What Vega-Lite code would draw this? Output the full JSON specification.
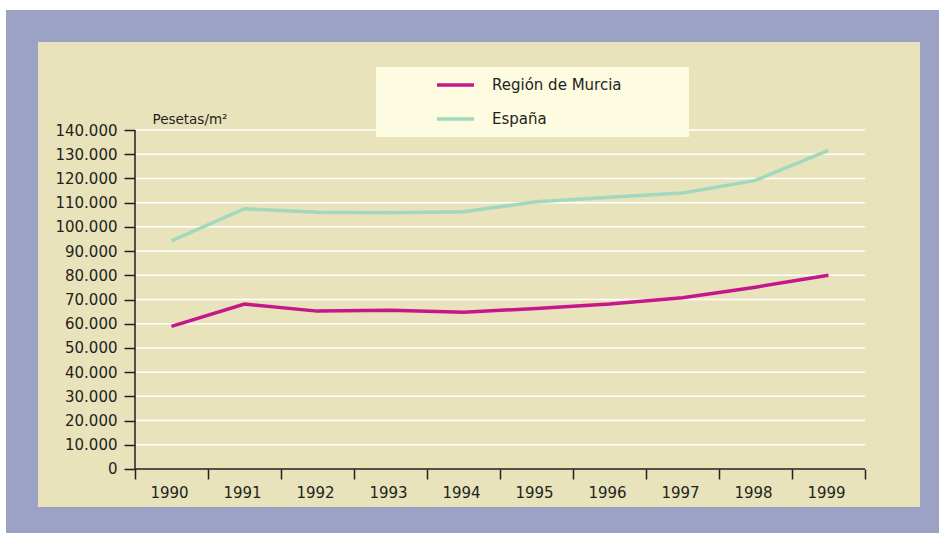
{
  "$schema": "https://vega.github.io/schema/vega-lite/v6.json",
  "width": 914,
  "height": 497,
  "autosize": {"type": "none"},
  "padding": {"left": 22, "top": 26, "right": 3, "bottom": 10},
  "background": "#ffffff",
  "config": {
    "view": {"fill": "#e8e3ba", "stroke": "#9ca2c6", "strokeWidth": 32},
    "font": "DejaVu Sans",
    "axis": {"labelColor": "#231f20", "labelFontSize": 15, "tickColor": "#231f20", "titleColor": "#231f20", "labelFont": "DejaVu Sans", "titleFont": "DejaVu Sans"},
    "legend": {"labelFont": "DejaVu Sans", "titleFont": "DejaVu Sans"}
  },
  "datasets": {
    "precios": [
      {"year": 1990, "region": "Región de Murcia", "value": 58900},
      {"year": 1991, "region": "Región de Murcia", "value": 68100},
      {"year": 1992, "region": "Región de Murcia", "value": 65200},
      {"year": 1993, "region": "Región de Murcia", "value": 65600},
      {"year": 1994, "region": "Región de Murcia", "value": 64700},
      {"year": 1995, "region": "Región de Murcia", "value": 66300},
      {"year": 1996, "region": "Región de Murcia", "value": 68100},
      {"year": 1997, "region": "Región de Murcia", "value": 70700},
      {"year": 1998, "region": "Región de Murcia", "value": 75100},
      {"year": 1999, "region": "Región de Murcia", "value": 80000},
      {"year": 1990, "region": "España", "value": 94200},
      {"year": 1991, "region": "España", "value": 107500},
      {"year": 1992, "region": "España", "value": 106000},
      {"year": 1993, "region": "España", "value": 105800},
      {"year": 1994, "region": "España", "value": 106200},
      {"year": 1995, "region": "España", "value": 110400},
      {"year": 1996, "region": "España", "value": 112200},
      {"year": 1997, "region": "España", "value": 114000},
      {"year": 1998, "region": "España", "value": 119200},
      {"year": 1999, "region": "España", "value": 131600}
    ],
    "grid": [
      {"g": 10000}, {"g": 20000}, {"g": 30000}, {"g": 40000}, {"g": 50000},
      {"g": 60000}, {"g": 70000}, {"g": 80000}, {"g": 90000}, {"g": 100000},
      {"g": 110000}, {"g": 120000}, {"g": 130000}, {"g": 140000}
    ],
    "one": [{"n": 1}]
  },
  "layer": [
    {
      "data": {"name": "grid"},
      "mark": {"type": "rule", "color": "#ffffff", "strokeWidth": 1.5},
      "encoding": {
        "y": {"field": "g", "type": "quantitative",
              "scale": {"domain": [-22301, 182950], "nice": false, "zero": false},
              "axis": {
                "values": [0, 10000, 20000, 30000, 40000, 50000, 60000, 70000, 80000, 90000, 100000, 110000, 120000, 130000, 140000],
                "domain": false, "grid": false, "offset": -113, "tickSize": 11, "tickWidth": 1.5, "labelPadding": 7,
                "labelExpr": "replace(format(datum.value, ','), /,/g, '.')",
                "labelOverlap": false, "labelFlush": false, "labelBound": false,
                "title": "Pesetas/m²", "titleAngle": 0, "titleAlign": "left", "titleBaseline": "alphabetic",
                "titleX": 17, "titleY": 97, "titleFontSize": 13.5, "titleFontWeight": "normal"
              }},
        "x": {"datum": 1989.5, "type": "quantitative",
              "scale": {"domain": [1987.9521, 2000.4726], "nice": false, "zero": false},
              "axis": {
                "values": [1989.5, 1990.5, 1991.5, 1992.5, 1993.5, 1994.5, 1995.5, 1996.5, 1997.5, 1998.5, 1999.5],
                "domain": false, "grid": false, "offset": -54, "tickSize": 10, "tickWidth": 1.5, "labelPadding": 6,
                "labelOffset": 34, "labelFlush": false, "labelOverlap": false, "labelBound": false,
                "labelExpr": "datum.value > 1999 ? '' : format(datum.value + 0.5, 'd')",
                "title": null
              }},
        "x2": {"datum": 1999.5}
      }
    },
    {
      "data": {"name": "one"},
      "mark": {"type": "rule", "color": "#231f20", "strokeWidth": 1.5},
      "encoding": {
        "x": {"datum": 1989.5, "type": "quantitative",
              "axis": {
                "values": [1989.5, 1990.5, 1991.5, 1992.5, 1993.5, 1994.5, 1995.5, 1996.5, 1997.5, 1998.5, 1999.5],
                "domain": false, "grid": false, "offset": -54, "tickSize": 10, "tickWidth": 1.5, "labelPadding": 6,
                "labelOffset": 34, "labelFlush": false, "labelOverlap": false, "labelBound": false,
                "labelExpr": "datum.value > 1999 ? '' : format(datum.value + 0.5, 'd')",
                "title": null
              }},
        "x2": {"datum": 1999.5},
        "y": {"datum": 0, "type": "quantitative",
              "axis": {
                "values": [0, 10000, 20000, 30000, 40000, 50000, 60000, 70000, 80000, 90000, 100000, 110000, 120000, 130000, 140000],
                "domain": false, "grid": false, "offset": -113, "tickSize": 11, "tickWidth": 1.5, "labelPadding": 7,
                "labelExpr": "replace(format(datum.value, ','), /,/g, '.')",
                "labelOverlap": false, "labelFlush": false, "labelBound": false,
                "title": "Pesetas/m²", "titleAngle": 0, "titleAlign": "left", "titleBaseline": "alphabetic",
                "titleX": 17, "titleY": 97, "titleFontSize": 13.5, "titleFontWeight": "normal"
              }}
      }
    },
    {
      "data": {"name": "one"},
      "mark": {"type": "rule", "color": "#231f20", "strokeWidth": 1.5},
      "encoding": {
        "x": {"datum": 1989.5, "type": "quantitative",
              "axis": {
                "values": [1989.5, 1990.5, 1991.5, 1992.5, 1993.5, 1994.5, 1995.5, 1996.5, 1997.5, 1998.5, 1999.5],
                "domain": false, "grid": false, "offset": -54, "tickSize": 10, "tickWidth": 1.5, "labelPadding": 6,
                "labelOffset": 34, "labelFlush": false, "labelOverlap": false, "labelBound": false,
                "labelExpr": "datum.value > 1999 ? '' : format(datum.value + 0.5, 'd')",
                "title": null
              }},
        "y": {"datum": 0, "type": "quantitative",
              "axis": {
                "values": [0, 10000, 20000, 30000, 40000, 50000, 60000, 70000, 80000, 90000, 100000, 110000, 120000, 130000, 140000],
                "domain": false, "grid": false, "offset": -113, "tickSize": 11, "tickWidth": 1.5, "labelPadding": 7,
                "labelExpr": "replace(format(datum.value, ','), /,/g, '.')",
                "labelOverlap": false, "labelFlush": false, "labelBound": false,
                "title": "Pesetas/m²", "titleAngle": 0, "titleAlign": "left", "titleBaseline": "alphabetic",
                "titleX": 17, "titleY": 97, "titleFontSize": 13.5, "titleFontWeight": "normal"
              }},
        "y2": {"datum": 140000}
      }
    },
    {
      "data": {"name": "precios"},
      "mark": {"type": "line", "strokeWidth": 3.5},
      "encoding": {
        "x": {"field": "year", "type": "quantitative",
              "axis": {
                "values": [1989.5, 1990.5, 1991.5, 1992.5, 1993.5, 1994.5, 1995.5, 1996.5, 1997.5, 1998.5, 1999.5],
                "domain": false, "grid": false, "offset": -54, "tickSize": 10, "tickWidth": 1.5, "labelPadding": 6,
                "labelOffset": 34, "labelFlush": false, "labelOverlap": false, "labelBound": false,
                "labelExpr": "datum.value > 1999 ? '' : format(datum.value + 0.5, 'd')",
                "title": null
              }},
        "y": {"field": "value", "type": "quantitative",
              "axis": {
                "values": [0, 10000, 20000, 30000, 40000, 50000, 60000, 70000, 80000, 90000, 100000, 110000, 120000, 130000, 140000],
                "domain": false, "grid": false, "offset": -113, "tickSize": 11, "tickWidth": 1.5, "labelPadding": 7,
                "labelExpr": "replace(format(datum.value, ','), /,/g, '.')",
                "labelOverlap": false, "labelFlush": false, "labelBound": false,
                "title": "Pesetas/m²", "titleAngle": 0, "titleAlign": "left", "titleBaseline": "alphabetic",
                "titleX": 17, "titleY": 97, "titleFontSize": 13.5, "titleFontWeight": "normal"
              }},
        "color": {
          "field": "region", "type": "nominal",
          "scale": {"domain": ["Región de Murcia", "España"], "range": ["#c5168a", "#a2d8be"]},
          "legend": {
            "title": ".", "titleOrient": "right", "titleOpacity": 0, "titlePadding": 53, "titleFontSize": 15,
            "orient": "none", "legendX": 354, "legendY": 41,
            "fillColor": "#fdfbe0", "padding": 8,
            "symbolType": "stroke", "symbolSize": 1369, "symbolStrokeWidth": 3.5,
            "symbolOffset": 51, "labelOffset": 16, "clipHeight": 20, "rowPadding": 14,
            "labelFontSize": 15, "labelColor": "#231f20", "labelLimit": 600
          }
        }
      }
    }
  ]
}
